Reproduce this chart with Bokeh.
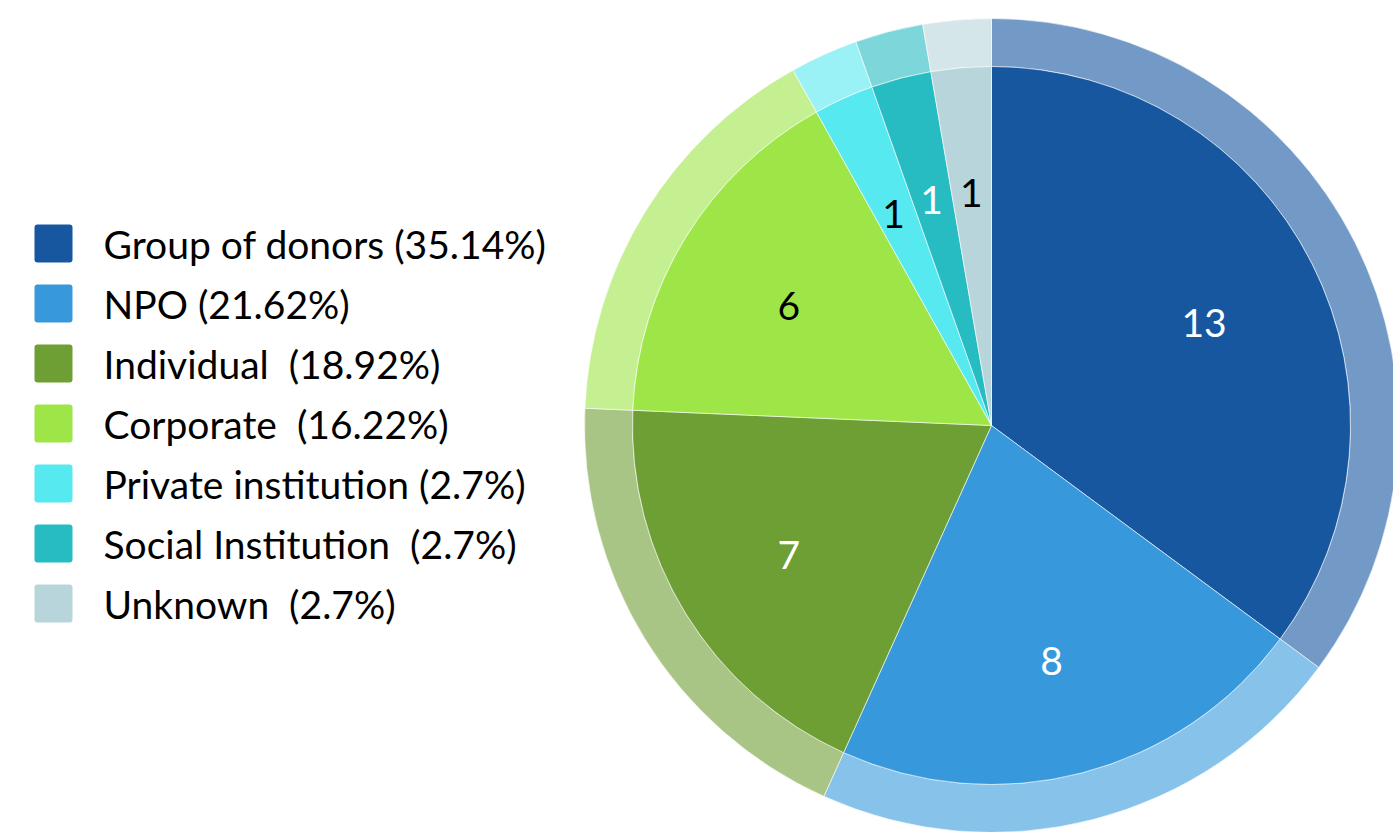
import math
from bokeh.plotting import figure
from bokeh.models import Range1d, ColumnDataSource
from bokeh.core.properties import value
from bokeh.embed import file_html
from bokeh.resources import INLINE

categories = ["Group of donors", "NPO", "Individual", "Corporate",
              "Private institution", "Social Institution", "Unknown"]
counts = [13, 8, 7, 6, 1, 1, 1]
legend_labels = ["Group of donors (35.14%)", "NPO (21.62%)", "Individual\u00a0 (18.92%)",
                 "Corporate\u00a0 (16.22%)", "Private institution (2.7%)",
                 "Social Institution\u00a0 (2.7%)", "Unknown\u00a0 (2.7%)"]
colors = ["#1657a0", "#3799dc", "#6e9f35", "#9ee648", "#57e9f0", "#27bcc2", "#b7d5da"]
label_colors = ["white", "white", "white", "black", "black", "white", "black"]

W, H = 1393, 832
p = figure(width=W, height=H, output_backend="svg", toolbar_location=None,
           x_range=Range1d(0, W), y_range=Range1d(0, H), min_border=0)
p.axis.visible = False
p.grid.visible = False
p.outline_line_color = None
p.background_fill_color = "white"

cx, cy = 991, H - 425
r_in, r_out = 359, 407
total = sum(counts)
starts, ends, lx, ly = [], [], [], []
acc = 0
for c in counts:
    a0 = acc / total * 2 * math.pi
    acc += c
    a1 = acc / total * 2 * math.pi
    starts.append(math.pi / 2 - a0)
    ends.append(math.pi / 2 - a1)
    mid = (a0 + a1) / 2
    lx.append(cx + 238 * math.sin(mid))
    ly.append(cy + 238 * math.cos(mid))

src = ColumnDataSource(dict(start=starts, end=ends, color=colors, lx=lx, ly=ly,
                            lab=[str(c) for c in counts], lc=label_colors))

p.annular_wedge(x=cx, y=cy, inner_radius=r_in, outer_radius=r_out, start_angle="start",
                end_angle="end", direction="clock", fill_color="color", fill_alpha=0.6,
                line_color="white", line_width=1, line_alpha=0.6, source=src)
p.wedge(x=cx, y=cy, radius=r_in, start_angle="start", end_angle="end", direction="clock",
        fill_color="color", line_color="white", line_width=1, line_alpha=0.6, source=src)
p.text(x="lx", y="ly", text="lab", text_color="lc", text_font=value("Lato"),
       text_font_size="39px", text_align="center", text_baseline="middle",
       y_offset=5, source=src)

# legend
n = len(categories)
ys = [H - (243 + 60 * i) for i in range(n)]
lsrc = ColumnDataSource(dict(left=[34] * n, right=[72] * n, top=[y + 19 for y in ys],
                             bottom=[y - 19 for y in ys], color=colors, y=ys,
                             tx=[103] * n, txt=legend_labels))
p.quad(left="left", right="right", top="top", bottom="bottom", fill_color="color",
       line_color=None, border_radius=3, source=lsrc)
p.text(x="tx", y="y", text="txt", text_color="black", text_font=value("Lato"),
       text_font_size="39px", text_align="left", text_baseline="middle", source=lsrc)

open("out.html", "w").write(file_html(p, INLINE))
